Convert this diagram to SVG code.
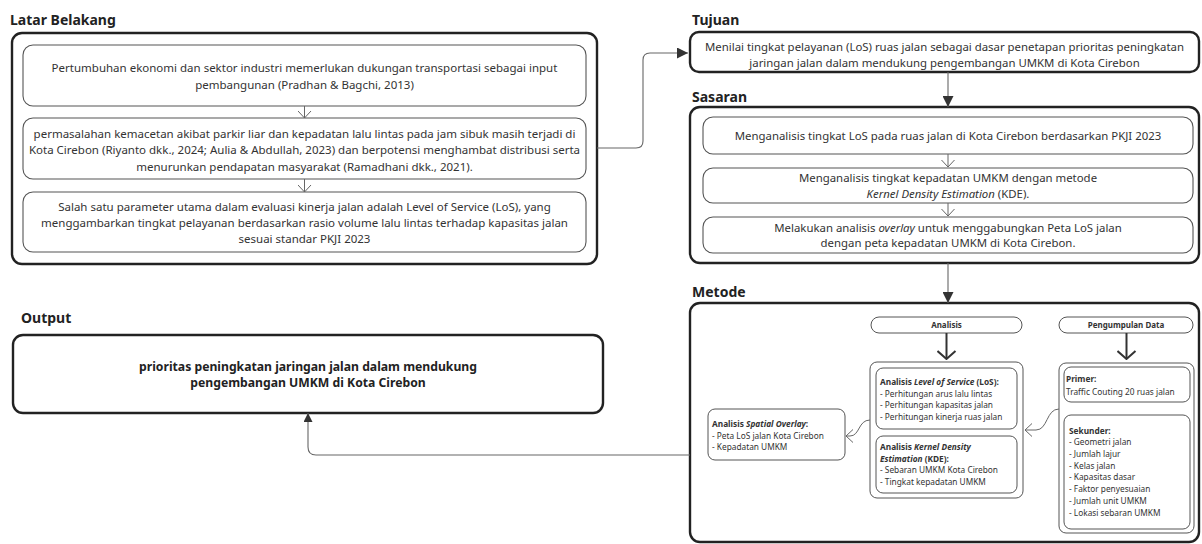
<svg xmlns="http://www.w3.org/2000/svg" width="1202" height="544" viewBox="0 0 1202 544">
<style>
text{font-family:"Noto Sans","Open Sans","Liberation Sans",sans-serif;fill:#333}
.ttl{font-size:14px;font-weight:bold;fill:#222}
.l{font-size:11.5px;text-anchor:middle}
.r{font-size:11.4px;text-anchor:middle}
.o{font-size:12.2px;font-weight:bold;text-anchor:middle;fill:#222}
.s{font-size:8.3px}
.p{font-size:8px;font-weight:bold;text-anchor:middle}
.b{font-weight:bold}
.i{font-style:italic}
.outer{fill:#fff;stroke:#222;stroke-width:2.4}
.inner{fill:#fff;stroke:#555;stroke-width:1.1}
.small{fill:#fff;stroke:#555;stroke-width:1}
.con{fill:none;stroke:#666;stroke-width:1.1}
.step{fill:none;stroke:#666;stroke-width:1}
.big{fill:none;stroke:#333;stroke-width:2}
</style>
<defs>
<marker id="tri" viewBox="0 0 10 10" refX="10" refY="5" markerWidth="11" markerHeight="11" markerUnits="userSpaceOnUse" orient="auto"><path d="M0,0 L10,5 L0,10 z" fill="#333"/></marker>
<marker id="tri2" viewBox="0 0 10 10" refX="10" refY="5" markerWidth="9" markerHeight="9" markerUnits="userSpaceOnUse" orient="auto"><path d="M0,0 L10,5 L0,10 z" fill="#333"/></marker>
<marker id="chev" viewBox="0 0 8 14" refX="7.5" refY="7" markerWidth="8" markerHeight="14" markerUnits="userSpaceOnUse" orient="auto"><path d="M0.5,0.5 L7.5,7 L0.5,13.5" fill="none" stroke="#666" stroke-width="1"/></marker>
<marker id="chevBig" viewBox="0 0 10 20" refX="9" refY="10" markerWidth="10" markerHeight="20" markerUnits="userSpaceOnUse" orient="auto"><path d="M1,1 L9,10 L1,19" fill="none" stroke="#333" stroke-width="2"/></marker>
</defs>

<rect width="1202" height="544" fill="#fff"/>

<g id="latar-belakang">
<text class="ttl" x="10" y="25">Latar Belakang</text>
<rect class="outer" x="12" y="33" width="585" height="231" rx="10"/>
<g id="lb1">
<rect class="inner" x="23" y="45" width="563" height="61" rx="10"/>
<text class="l" x="304.5" y="72">Pertumbuhan ekonomi dan sektor industri memerlukan dukungan transportasi sebagai input</text>
<text class="l" x="304.5" y="88.5">pembangunan (Pradhan &amp; Bagchi, 2013)</text>
</g>
<g id="lb2">
<rect class="inner" x="23" y="118" width="563" height="61" rx="10"/>
<text class="l" x="304.5" y="137.5">permasalahan kemacetan akibat parkir liar dan kepadatan lalu lintas pada jam sibuk masih terjadi di</text>
<text class="l" x="304.5" y="154">Kota Cirebon (Riyanto dkk., 2024; Aulia &amp; Abdullah, 2023) dan berpotensi menghambat distribusi serta</text>
<text class="l" x="304.5" y="170.5">menurunkan pendapatan masyarakat (Ramadhani dkk., 2021).</text>
</g>
<g id="lb3">
<rect class="inner" x="23" y="192" width="563" height="60" rx="10"/>
<text class="l" x="304.5" y="210.5">Salah satu parameter utama dalam evaluasi kinerja jalan adalah Level of Service (LoS), yang</text>
<text class="l" x="304.5" y="226.5">menggambarkan tingkat pelayanan berdasarkan rasio volume lalu lintas terhadap kapasitas jalan</text>
<text class="l" x="304.5" y="242.5">sesuai standar PKJI 2023</text>
</g>
</g>

<g id="tujuan">
<text class="ttl" x="692" y="25">Tujuan</text>
<rect class="outer" x="690" y="32" width="509" height="40" rx="9"/>
<text class="r" x="944.5" y="51">Menilai tingkat pelayanan (LoS) ruas jalan sebagai dasar penetapan prioritas peningkatan</text>
<text class="r" x="944.5" y="66.5">jaringan jalan dalam mendukung pengembangan UMKM di Kota Cirebon</text>
</g>

<g id="sasaran">
<text class="ttl" x="692" y="102">Sasaran</text>
<rect class="outer" x="690" y="107" width="509" height="156" rx="10"/>
<g id="sa1">
<rect class="inner" x="703" y="117" width="490" height="37" rx="10"/>
<text class="r" x="948" y="139.5">Menganalisis tingkat LoS pada ruas jalan di Kota Cirebon berdasarkan PKJI 2023</text>
</g>
<g id="sa2">
<rect class="inner" x="703" y="168" width="490" height="35" rx="10"/>
<text class="r" x="948" y="181.5">Menganalisis tingkat kepadatan UMKM dengan metode</text>
<text class="r" x="948" y="197.5"><tspan class="i">Kernel Density Estimation</tspan>  (KDE).</text>
</g>
<g id="sa3">
<rect class="inner" x="703" y="217" width="490" height="36" rx="10"/>
<text class="r" x="948" y="231.5">Melakukan analisis <tspan class="i">overlay</tspan> untuk menggabungkan Peta LoS jalan</text>
<text class="r" x="948" y="247">dengan peta kepadatan UMKM di Kota Cirebon.</text>
</g>
</g>

<g id="output">
<text class="ttl" x="21" y="323">Output</text>
<rect class="outer" x="13" y="335" width="590" height="78" rx="10"/>
<text class="o" x="308" y="370.5">prioritas peningkatan jaringan jalan dalam mendukung</text>
<text class="o" x="308" y="387">pengembangan UMKM di Kota Cirebon</text>
</g>

<g id="metode">
<text class="ttl" x="692" y="297">Metode</text>
<rect class="outer" x="690" y="303" width="509" height="239" rx="10"/>
<g id="pill-analisis">
<rect class="small" x="871" y="317" width="151" height="16" rx="8"/>
<text class="p" x="946.5" y="328">Analisis</text>
</g>
<g id="pill-data">
<rect class="small" x="1059" y="317" width="134" height="16" rx="8"/>
<text class="p" x="1126" y="328">Pengumpulan Data</text>
</g>
<g id="analisis">
<rect class="small" x="870" y="362" width="153" height="136" rx="7"/>
<g id="los">
<rect class="small" x="876" y="368" width="141" height="61" rx="7"/>
<text class="s" x="880" y="384.8"><tspan class="b">Analisis </tspan><tspan class="b i">Level of Service</tspan><tspan class="b">  (LoS):</tspan></text>
<text class="s" x="880" y="396.5">- Perhitungan arus lalu lintas</text>
<text class="s" x="880" y="408.2">- Perhitungan kapasitas jalan</text>
<text class="s" x="880" y="419.9">- Perhitungan kinerja ruas jalan</text>
</g>
<g id="kde">
<rect class="small" x="876" y="436" width="141" height="57" rx="7"/>
<text class="s" x="880" y="450"><tspan class="b">Analisis </tspan><tspan class="b i">Kernel Density</tspan></text>
<text class="s" x="880" y="461.7"><tspan class="b i">Estimation</tspan><tspan class="b"> (KDE):</tspan></text>
<text class="s" x="880" y="473.4">- Sebaran UMKM Kota Cirebon</text>
<text class="s" x="880" y="485.1">- Tingkat kepadatan UMKM</text>
</g>
</g>
<g id="spatial">
<rect class="small" x="708" y="409" width="137" height="51" rx="7"/>
<text class="s" x="712" y="426.8"><tspan class="b">Analisis </tspan><tspan class="b i">Spatial Overlay</tspan><tspan class="b">:</tspan></text>
<text class="s" x="712" y="438.5">- Peta LoS jalan Kota Cirebon</text>
<text class="s" x="712" y="450.2">- Kepadatan UMKM</text>
</g>
<g id="data">
<rect class="small" x="1059" y="363" width="135" height="170" rx="7"/>
<g id="primer">
<rect class="small" x="1064" y="367" width="126" height="35" rx="7"/>
<text class="s b" x="1066" y="382">Primer:</text>
<text class="s" x="1066" y="395">Traffic Couting 20 ruas jalan</text>
</g>
<g id="sekunder">
<rect class="small" x="1064" y="415" width="126" height="114" rx="7"/>
<text class="s b" x="1069" y="434">Sekunder:</text>
<text class="s" x="1069" y="445.3">- Geometri jalan</text>
<text class="s" x="1069" y="457">- Jumlah lajur</text>
<text class="s" x="1069" y="468.7">- Kelas jalan</text>
<text class="s" x="1069" y="480.4">- Kapasitas dasar</text>
<text class="s" x="1069" y="492.1">- Faktor penyesuaian</text>
<text class="s" x="1069" y="503.8">- Jumlah unit UMKM</text>
<text class="s" x="1069" y="515.5">- Lokasi sebaran UMKM</text>
</g>
</g>
</g>

<g id="connectors">
<path class="step" d="M304.5,106 V118" marker-end="url(#chev)"/>
<path class="step" d="M304.5,179 V192" marker-end="url(#chev)"/>
<path class="step" d="M948,154 V167" marker-end="url(#chev)"/>
<path class="step" d="M948,203 V216" marker-end="url(#chev)"/>
<path class="con" d="M597,148 H636 Q643,148 643,141 V60 Q643,53 650,53 H688" marker-end="url(#tri)"/>
<path class="con" d="M948,72 V107" marker-end="url(#tri)"/>
<path class="con" d="M948,263 V303" marker-end="url(#tri)"/>
<path class="big" d="M946.5,333 V359" marker-end="url(#chevBig)"/>
<path class="big" d="M1126.5,333 V359" marker-end="url(#chevBig)"/>
<path class="step" d="M1059,409 C1046,409 1048,430 1036,430 H1025" marker-end="url(#chev)"/>
<path class="step" d="M870,420 C858,420 860,436 850,436 H846" marker-end="url(#chev)"/>
<path class="con" d="M690,455 H316 Q308,455 308,447 V413" marker-end="url(#tri2)"/>
</g>
</svg>
